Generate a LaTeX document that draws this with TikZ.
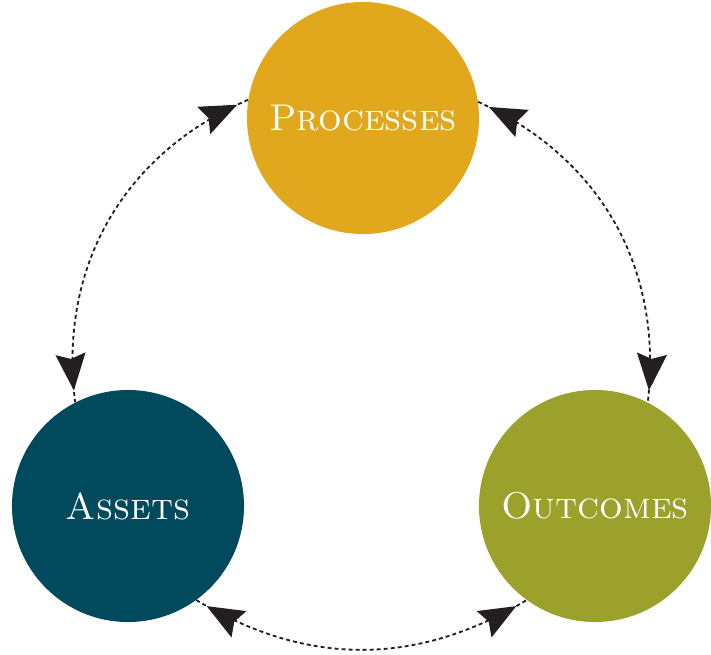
\documentclass[tikz,border=0pt]{standalone}
\usepackage{xcolor}
\usepackage{tikz}
\usetikzlibrary{arrows.meta, decorations.markings}
\definecolor{procgold}{HTML}{E1A81D}
\definecolor{assetblue}{HTML}{014A5E}
\definecolor{outcgreen}{HTML}{9BA12B}
\definecolor{linkgrey}{HTML}{231F20}
\tikzset{every picture/.style={x=0.025cm, y=-0.025cm},
  stage/.style={circle, minimum size=5.8cm, inner sep=0pt, text=white,
    font=\fontsize{26.5}{32}\selectfont\scshape},
  link/.style={draw=linkgrey, line width=1.3pt, dash pattern=on 2.8pt off 2.2pt,
    postaction={decorate}, decoration={markings,
      mark=at position 0.3cm with {\arrowreversed[solid]{Stealth[length=0.92cm, width=0.75cm, inset=0.13cm]}},
      mark=at position -0.3cm with {\arrow[solid]{Stealth[length=0.92cm, width=0.75cm, inset=0.13cm]}}}}}

\begin{document}
\begin{tikzpicture}
  \useasboundingbox (0,0) rectangle (711,654);

  \node[stage, fill=procgold] (proc) at (363,118){Processes};
  \node[stage, fill=assetblue] (assets) at (128,506){Assets};
  \node[stage, fill=outcgreen] (outc) at (595,506){Outcomes};

  \draw[link] (proc.171) to[bend right=37] (assets.117);
  \draw[link] (proc.8) to[bend left=36] (outc.63);
  \draw[link] (assets.-54) to[bend right=31] (outc.234);
\end{tikzpicture}
\end{document}
